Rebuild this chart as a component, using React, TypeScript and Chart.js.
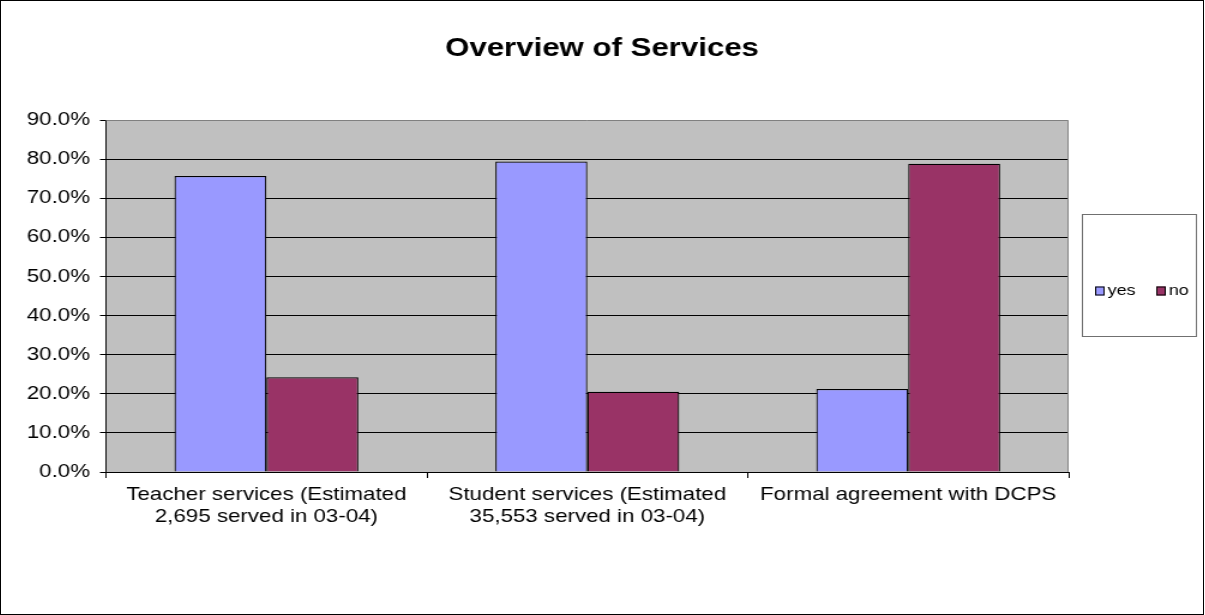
import React, { useEffect, useRef } from "react";
import { Chart, registerables } from "chart.js";

Chart.register(...registerables);

const chartTitle = "Overview of Services";
const categories: string[][] = [
  ["Teacher services (Estimated", "2,695 served in 03-04)"],
  ["Student services (Estimated", "35,553 served in 03-04)"],
  ["Formal agreement with DCPS"],
];
const seriesNames = ["yes", "no"];
const yesValues = [75.7, 79.4, 21.2];
const noValues = [24.2, 20.5, 78.8];
const seriesColors = ["#9999FF", "#993366"];
const yMin = 0;
const yMax = 90;
const yStep = 10;

const FONT = '"Liberation Sans", Arial, sans-serif';
const CSS_W = 1202;
const CSS_H = 613;
const INT_W = 1002; // canvas drawn narrower, then stretched horizontally like the reference
const INT_H = 613;

const plotBgPlugin = {
  id: "plotBg",
  beforeDraw(chart: any) {
    const { ctx, chartArea } = chart;
    ctx.save();
    ctx.fillStyle = "#C0C0C0";
    ctx.fillRect(chartArea.left, chartArea.top, chartArea.right - chartArea.left, chartArea.bottom - chartArea.top);
    ctx.restore();
  },
  afterDraw(chart: any) {
    const { ctx, chartArea } = chart;
    ctx.save();
    ctx.strokeStyle = "#808080";
    ctx.lineWidth = 1;
    ctx.beginPath();
    ctx.moveTo(chartArea.left, chartArea.top + 0.5);
    ctx.lineTo(chartArea.right - 0.5, chartArea.top + 0.5);
    ctx.lineTo(chartArea.right - 0.5, chartArea.bottom);
    ctx.stroke();
    ctx.restore();
  },
};

const boxLegendPlugin = {
  id: "boxLegend",
  afterDraw(chart: any) {
    const { ctx } = chart;
    const bx = 901;
    const by = 213;
    const bw = 96;
    const bh = 123;
    ctx.save();
    ctx.fillStyle = "#FFFFFF";
    ctx.fillRect(bx, by, bw, bh);
    ctx.strokeStyle = "#707070";
    ctx.lineWidth = 1;
    ctx.strokeRect(bx + 0.5, by + 0.5, bw - 1, bh - 1);
    ctx.font = `15px ${FONT}`;
    ctx.textBaseline = "middle";
    ctx.fillStyle = "#000";
    const cy = 290;
    let x = bx + 11;
    chart.data.datasets.forEach((ds: any) => {
      ctx.fillStyle = ds.backgroundColor;
      ctx.fillRect(x, cy - 4.5, 8, 9);
      ctx.strokeStyle = "#000";
      ctx.strokeRect(x + 0.5, cy - 4, 7, 8);
      ctx.fillStyle = "#000";
      ctx.textAlign = "left";
      ctx.fillText(ds.label, x + 10.5, cy);
      x += 51;
    });
    ctx.restore();
  },
};

export default function App() {
  const canvasRef = useRef<HTMLCanvasElement | null>(null);

  useEffect(() => {
    if (!canvasRef.current) return;
    Chart.defaults.color = "#000";
    const chart = new Chart(canvasRef.current, {
      type: "bar",
      data: {
        labels: categories,
        datasets: [
          {
            label: seriesNames[0],
            data: yesValues,
            backgroundColor: seriesColors[0],
            borderColor: "#000",
            borderWidth: 1.2,
          },
          {
            label: seriesNames[1],
            data: noValues,
            backgroundColor: seriesColors[1],
            borderColor: "#000",
            borderWidth: 1.2,
          },
        ],
      },
      options: {
        responsive: false,
        maintainAspectRatio: false,
        devicePixelRatio: 1,
        animation: false,
        datasets: {
          bar: { categoryPercentage: 0.573, barPercentage: 1 },
        },
        layout: { padding: { left: 0, right: 0, top: 0, bottom: 0 } },
        plugins: {
          legend: { display: false },
          tooltip: { enabled: false },
          title: {
            display: true,
            text: chartTitle,
            color: "#000",
            font: { family: FONT, size: 26, weight: "bold" },
            padding: { top: 32.4, bottom: 55.4 },
          },
        },
        scales: {
          x: {
            offset: true,
            grid: {
              offset: true,
              drawOnChartArea: false,
              drawTicks: true,
              tickLength: 6,
              color: "#000",
            },
            border: { display: true, color: "#000", width: 1 },
            ticks: {
              color: "#000",
              font: { family: FONT, size: 18.6 },
              padding: 5.8,
              maxRotation: 0,
              autoSkip: false,
            },
            afterFit(scale: any) {
              scale.height = INT_H - 471;
            },
          },
          y: {
            min: yMin,
            max: yMax,
            grid: {
              color: (c: any) => (c.tick && c.tick.value === yMax ? "rgba(0,0,0,0)" : "#000"),
              tickColor: "#000",
              tickLength: 5,
              drawTicks: true,
            },
            border: { display: true, color: "#000", width: 1 },
            ticks: {
              stepSize: yStep,
              color: "#000",
              font: { family: FONT, size: 18.6 },
              padding: 8.3,
              callback: (v: any) => Number(v).toFixed(1) + "%",
            },
            afterFit(scale: any) {
              scale.width = 87.5;
            },
          },
          legendSpace: {
            type: "linear",
            axis: "y",
            position: "right",
            display: true,
            grid: { display: false, drawTicks: false },
            border: { display: false },
            ticks: { display: false },
            afterFit(scale: any) {
              scale.width = 112;
            },
          },
        },
      },
      plugins: [plotBgPlugin, boxLegendPlugin],
    } as any);
    return () => chart.destroy();
  }, []);

  return (
    <div
      style={{
        position: "absolute",
        left: 0,
        top: 0,
        width: 1204,
        height: 615,
        boxSizing: "border-box",
        border: "1px solid #000",
        background: "#fff",
      }}
    >
      <canvas
        ref={canvasRef}
        width={INT_W}
        height={INT_H}
        style={{ display: "block", width: CSS_W + "px", height: CSS_H + "px" }}
      />
    </div>
  );
}
